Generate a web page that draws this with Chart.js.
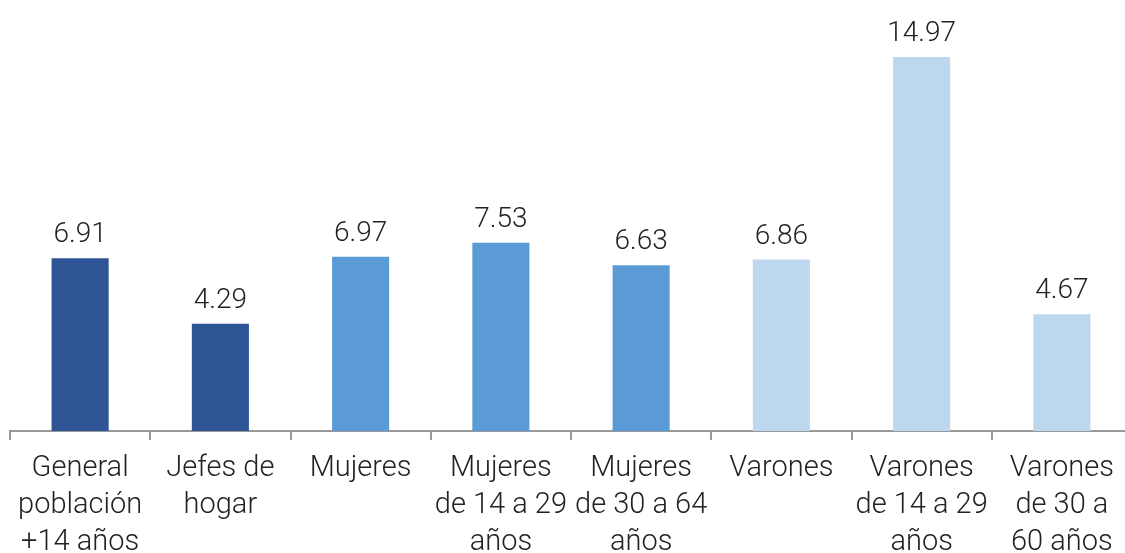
<!DOCTYPE html>
<html>
<head>
<meta charset="utf-8">
<script src="https://cdn.jsdelivr.net/npm/chart.js@4"></script>
<style>
  html, body { margin: 0; padding: 0; background: #fff; overflow: hidden; }
  /* el eje sigue un poco mas alla del borde derecho */
  #wrap { width: 1132px; height: 553px; }
</style>
</head>
<body>
<div id="wrap"><canvas id="chart"></canvas></div>
<script>
/* categorias */
const categorias = [
    ['General', 'población', '+14 años'],
    ['Jefes de', 'hogar'],
    ['Mujeres'],
    ['Mujeres', 'de 14 a 29', 'años'],
    ['Mujeres', 'de 30 a 64', 'años'],
    ['Varones'],
    ['Varones', 'de 14 a 29', 'años'],
    ['Varones', 'de 30 a', '60 años']
];

/* valores */
const valores = [6.91, 4.29, 6.97, 7.53, 6.63, 6.86, 14.97, 4.67];

/* colores por grupo */
const colores = ['#2F5597', '#2F5597', '#5B9BD5', '#5B9BD5', '#5B9BD5', '#BDD7EE', '#BDD7EE', '#BDD7EE'];

const fuente = 'Roboto, "Noto Sans", sans-serif';

/* etiquetas sobre las barras */
const etiquetasPlugin = {
    id: 'etiquetas',
    afterDatasetsDraw(chart) {
        const ctx = chart.ctx;
        const meta = chart.getDatasetMeta(0);
        ctx.save();
        ctx.font = '300 28px ' + fuente;
        ctx.fillStyle = '#222';
        ctx.textAlign = 'center';
        ctx.textBaseline = 'bottom';
        meta.data.forEach((bar, i) => {
            ctx.fillText(valores[i].toFixed(2), bar.x, bar.y - 9);
        });
        ctx.restore();
    }
};

const ctx = document.getElementById('chart').getContext('2d');
new Chart(ctx, {
    type: 'bar',
    data: {
        labels: categorias,
        datasets: [{
            data: valores,
            backgroundColor: colores,
            borderWidth: 0,
            categoryPercentage: 0.407,
            barPercentage: 1
        }]
    },
    options: {
        responsive: true,
        maintainAspectRatio: false,
        animation: false,
        layout: { padding: { left: 10, right: 0, top: 0, bottom: 0 } },
        plugins: {
            legend: { display: false },
            tooltip: { enabled: false }
        },
        scales: {
            y: {
                display: false,
                min: 0,
                max: 17.25
            },
            x: {
                afterFit(scale) { scale.height = 122; },
                grid: {
                    offset: true,
                    drawOnChartArea: false,
                    drawTicks: true,
                    tickLength: 9,
                    color: '#999',
                    lineWidth: 2
                },
                border: { color: '#999', width: 2 },
                ticks: {
                    color: '#222',
                    padding: 10,
                    maxRotation: 0,
                    autoSkip: false,
                    font: { family: fuente, size: 29, weight: 300, lineHeight: 1.28 }
                }
            }
        }
    },
    plugins: [etiquetasPlugin]
});
</script>
</body>
</html>
